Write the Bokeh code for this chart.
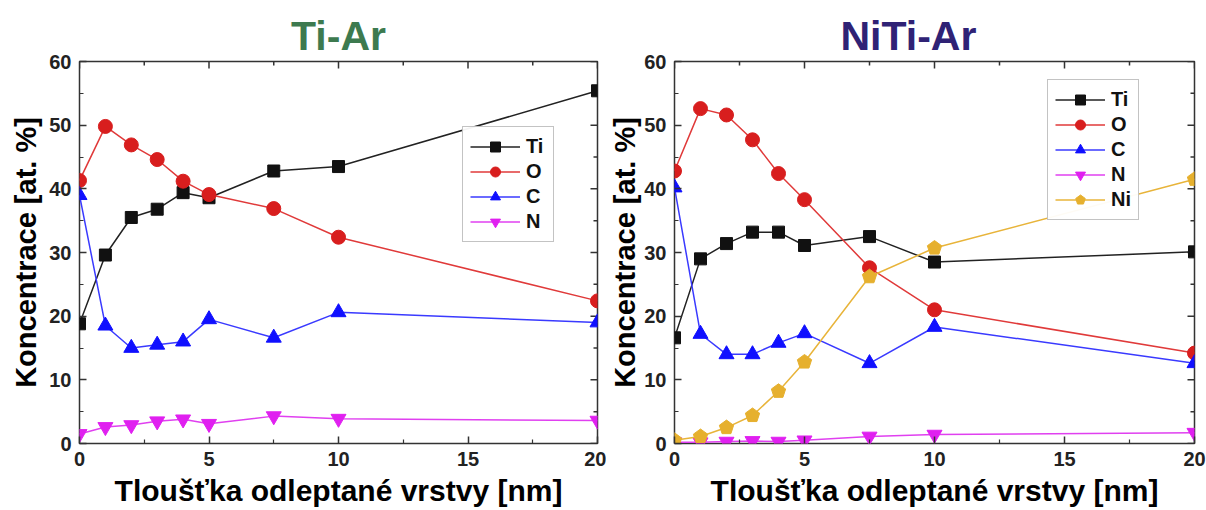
from bokeh.plotting import figure
from bokeh.models import FixedTicker, Legend, LegendItem, Range1d, Title
from bokeh.layouts import row
from bokeh.embed import file_html
from bokeh.resources import INLINE
import math

# etched depth [nm]
depth = [0, 1, 2, 3, 4, 5, 7.5, 10, 20]

# Ti-Ar sample, concentrations [at. %]
tiar_Ti = [18.8, 29.6, 35.5, 36.8, 39.4, 38.6, 42.8, 43.5, 55.4]
tiar_O = [41.3, 49.8, 46.9, 44.6, 41.2, 39.1, 36.9, 32.4, 22.4]
tiar_C = [39.0, 18.5, 15.0, 15.5, 16.0, 19.5, 16.6, 20.6, 19.0]
tiar_N = [1.5, 2.6, 2.9, 3.5, 3.8, 3.1, 4.3, 3.9, 3.6]

# NiTi-Ar sample, concentrations [at. %]
nitiar_Ti = [16.6, 29.0, 31.4, 33.2, 33.2, 31.1, 32.5, 28.5, 30.1]
nitiar_O = [42.8, 52.6, 51.6, 47.7, 42.4, 38.3, 27.6, 21.0, 14.2]
nitiar_C = [40.2, 17.2, 14.0, 14.0, 15.8, 17.3, 12.6, 18.3, 12.6]
nitiar_N = [0.2, 0.2, 0.3, 0.4, 0.3, 0.5, 1.1, 1.4, 1.7]
nitiar_Ni = [0.5, 1.1, 2.5, 4.4, 8.2, 12.8, 26.2, 30.7, 41.5]

x_ticks = [0, 5, 10, 15, 20]
x_minor = [2.5, 7.5, 12.5, 17.5]
y_ticks = [0, 10, 20, 30, 40, 50, 60]
y_minor = [5, 15, 25, 35, 45, 55]
X_MAX, Y_MAX = 20, 60

FONT = "Liberation Sans"
TICK_COLOR = "#333333"

# element -> (marker, fill colour, line colour, marker size)
STYLE = {
    "Ti": ("square", "#111111", "#222222", 12),
    "O": ("circle", "#d81e1e", "#e03a3a", 14),
    "C": ("triangle", "#1010ff", "#3a3aff", 15),
    "N": ("inverted_triangle", "#e020f0", "#e040f0", 15),
    "Ni": ("pentagon", "#e6b02e", "#e8b43a", 7.5),
}


def style_axis(ax, ticks, minor):
    ax.ticker = FixedTicker(ticks=ticks, minor_ticks=minor)
    ax.axis_line_color = None
    ax.major_tick_in = 7
    ax.major_tick_out = 0
    ax.minor_tick_in = 4
    ax.minor_tick_out = 0
    ax.major_tick_line_color = TICK_COLOR
    ax.minor_tick_line_color = TICK_COLOR
    ax.major_tick_line_width = 1.5
    ax.minor_tick_line_width = 1.2
    ax.major_label_text_font = FONT
    ax.major_label_text_font_style = "bold"
    ax.major_label_text_font_size = "20px"
    ax.major_label_text_color = "#222222"
    ax.major_label_standoff = 8
    ax.axis_label_text_font = FONT
    ax.axis_label_text_font_style = "bold"
    ax.axis_label_text_color = "#000000"


def mirror_ticks(p):
    # inward ticks along the top and right frame edges; the half of each
    # dash that falls outside the frame is clipped away
    kw = dict(marker="dash", line_color=TICK_COLOR, line_width=1.5)
    p.scatter(x_ticks, [Y_MAX] * len(x_ticks), size=14, angle=math.pi / 2, **kw)
    p.scatter(x_minor, [Y_MAX] * len(x_minor), size=8, angle=math.pi / 2, **kw)
    p.scatter([X_MAX] * len(y_ticks), y_ticks, size=14, **kw)
    p.scatter([X_MAX] * len(y_minor), y_minor, size=8, **kw)


def make_panel(title, title_color, title_align, title_offset, series,
               width, bl, br, ylabel_standoff, legend_xy):
    p = figure(width=width, height=510, x_range=Range1d(0, X_MAX),
               y_range=Range1d(0, Y_MAX),
               output_backend="svg", toolbar_location=None,
               min_border_left=bl, min_border_right=br,
               min_border_top=61, min_border_bottom=67)
    p.title = Title(text=title, align=title_align, offset=title_offset,
                    text_font=FONT, text_font_style="bold",
                    text_font_size="41px", text_color=title_color, standoff=6)
    p.background_fill_color = "white"
    p.border_fill_color = "white"
    p.outline_line_color = TICK_COLOR
    p.outline_line_width = 1.5
    p.grid.visible = False

    style_axis(p.xaxis[0], x_ticks, x_minor)
    style_axis(p.yaxis[0], y_ticks, y_minor)
    p.xaxis[0].axis_label = "Tloušťka odleptané vrstvy [nm]"
    p.yaxis[0].axis_label = "Koncentrace [at. %]"
    p.xaxis[0].axis_label_text_font_size = "30px"
    p.yaxis[0].axis_label_text_font_size = "29px"
    p.xaxis[0].axis_label_standoff = 5
    p.yaxis[0].axis_label_standoff = ylabel_standoff

    mirror_ticks(p)

    items = []
    for name, vals in series:
        marker, fill, line, size = STYLE[name]
        lr = p.line(depth, vals, line_color=line, line_width=1.5)
        if marker == "pentagon":
            # five-sided marker with one vertex pointing up
            mr = p.ngon(depth, vals, radius=size, radius_units="screen", n=5,
                        angle=0, fill_color=fill, line_color=fill)
        else:
            mr = p.scatter(depth, vals, marker=marker, size=size,
                           fill_color=fill, line_color=fill)
        items.append(LegendItem(label=name, renderers=[lr, mr]))

    leg = Legend(items=items, location=legend_xy)
    leg.label_text_font = FONT
    leg.label_text_font_style = "bold"
    leg.label_text_font_size = "20px"
    leg.label_text_color = "#111111"
    leg.border_line_color = "#888888"
    leg.border_line_width = 1
    leg.background_fill_color = "white"
    leg.glyph_width = 50
    leg.glyph_height = 25
    leg.spacing = 0
    leg.padding = 7
    leg.margin = 0
    leg.label_standoff = 6
    p.add_layout(leg, "center")
    return p


left = make_panel("Ti-Ar", "#3d7a4f", "center", 0,
                  [("Ti", tiar_Ti), ("O", tiar_O), ("C", tiar_C), ("N", tiar_N)],
                  606, 79, 9, 4, (383, 201))
right = make_panel("NiTi-Ar", "#2f2275", "left", 166,
                   [("Ti", nitiar_Ti), ("O", nitiar_O), ("C", nitiar_C),
                    ("N", nitiar_N), ("Ni", nitiar_Ni)],
                   600, 68, 12, 0, (373, 223))

layout = row(left, right)
open("out.html", "w").write(file_html(layout, INLINE))
